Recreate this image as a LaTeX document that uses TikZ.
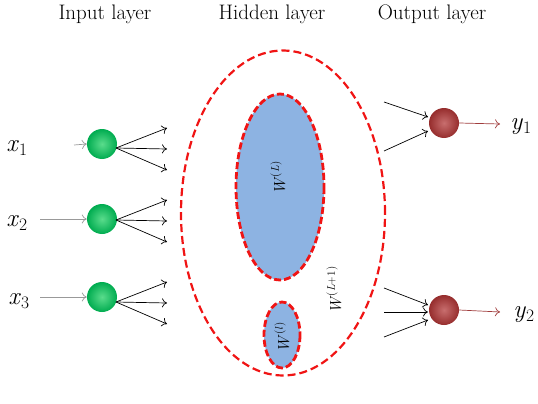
\documentclass[tikz,border=0pt]{standalone}
\usepackage{fontspec}
\usetikzlibrary{arrows.meta,shapes.geometric}
\definecolor{inball}{RGB}{0,172,80}
\definecolor{inballhi}{RGB}{90,220,140}
\definecolor{outball}{RGB}{150,45,45}
\definecolor{outballhi}{RGB}{200,110,110}
\definecolor{blobfill}{RGB}{141,179,226}
\definecolor{dashred}{RGB}{240,20,20}
\definecolor{outarrow}{RGB}{160,60,60}
\tikzset{
  innode/.style={circle,minimum size=30pt,inner sep=0pt,shade,shading=radial,inner color=inballhi,outer color=inball},
  outnode/.style={circle,minimum size=30pt,inner sep=0pt,shade,shading=radial,inner color=outballhi,outer color=outball},
  title/.style={font=\fontsize{21}{24}\selectfont},
  varlabel/.style={font=\fontsize{25}{28}\selectfont},
  wlabel/.style={font=\fontsize{16}{18}\selectfont,rotate=90,inner sep=0pt},
  blob/.style={draw=dashred,fill=blobfill,line width=2.8pt,dash pattern=on 7pt off 3pt},
  bigring/.style={draw=dashred,line width=2.2pt,dash pattern=on 8pt off 4pt},
  openarrow/.style={-{To[length=5pt,width=9pt]},line width=0.7pt},
  inarrow/.style={openarrow,draw=gray!80},
  fanarrow/.style={openarrow,draw=black},
  resarrow/.style={openarrow,draw=outarrow}
}
\begin{document}
\begin{tikzpicture}[x=1pt,y=-1pt]
\useasboundingbox (0,0) rectangle (538,404);
% titles
\node[title] (t1) at (105,14) {Input layer};
\node[title] (t2) at (272,14) {Hidden layer};
\node[title] (t3) at (432,14) {Output layer};
% hidden layer
\node[bigring,ellipse,minimum width=204pt,minimum height=325pt,inner sep=0pt] (ring) at (283,213) {};
\draw[blob] (280,187) ellipse [x radius=44, y radius=93];
\node[inner sep=0pt] (blobL) at (280,187) {};
\draw[blob] (282,335) ellipse [x radius=18, y radius=33];
\node[inner sep=0pt] (blob1) at (282,335) {};
\node[wlabel] (wL) at (278,178) {\textit{W}\textsuperscript{(\textit{L})}};
\node[wlabel] (wL1) at (334,290) {\textit{W}\textsuperscript{(\textit{L}+1)}};
\node[wlabel] (w1) at (282,337) {\textit{W}\textsuperscript{(\textit{l})}};
% input nodes
\node[innode] (i1) at (102,144) {};
\node[innode] (i2) at (102,219) {};
\node[innode] (i3) at (102,297) {};
\node[varlabel] (x1) at (17,148) {\textit{x}\textsubscript{1}};
\node[varlabel] (x2) at (17,223) {\textit{x}\textsubscript{2}};
\node[varlabel] (x3) at (19,301) {\textit{x}\textsubscript{3}};
\coordinate (s1) at (74,145);
\coordinate (s2) at (40,219);
\coordinate (s3) at (40,297);
\draw[inarrow] (s1) -- (i1.west);
\draw[inarrow] (s2) -- (i2.west);
\draw[inarrow] (s3) -- (i3.west);
% fan-out arrows
\foreach \n/\y in {1/148,2/220,3/302}{
  \coordinate (f\n) at (116,\y);
  \coordinate (fa\n) at (167,\y-20);
  \coordinate (fb\n) at (167,\y+1);
  \coordinate (fc\n) at (167,\y+22);
  \draw[fanarrow] (f\n) -- (fa\n);
  \draw[fanarrow] (f\n) -- (fb\n);
  \draw[fanarrow] (f\n) -- (fc\n);
}
% output nodes
\node[outnode] (o1) at (444,123) {};
\node[outnode] (o2) at (444,310) {};
\coordinate (p1) at (384,102);
\coordinate (p2) at (384,151);
\coordinate (q1) at (384,288);
\coordinate (q2) at (384,312);
\coordinate (q3) at (384,337);
\coordinate (pt1) at (428,117);
\coordinate (pt2) at (428,131);
\coordinate (qt1) at (428,305);
\coordinate (qt2) at (428,312);
\coordinate (qt3) at (428,320);
\draw[fanarrow] (p1) -- (pt1);
\draw[fanarrow] (p2) -- (pt2);
\draw[fanarrow] (q1) -- (qt1);
\draw[fanarrow] (q2) -- (qt2);
\draw[fanarrow] (q3) -- (qt3);
\node[varlabel] (y1) at (521,127) {\textit{y}\textsubscript{1}};
\node[varlabel] (y2) at (524,315) {\textit{y}\textsubscript{2}};
\coordinate (r1) at (500,124);
\coordinate (r2) at (500,312);
\draw[resarrow] (o1.east) -- (r1);
\draw[resarrow] (o2.east) -- (r2);
\end{tikzpicture}
\end{document}
